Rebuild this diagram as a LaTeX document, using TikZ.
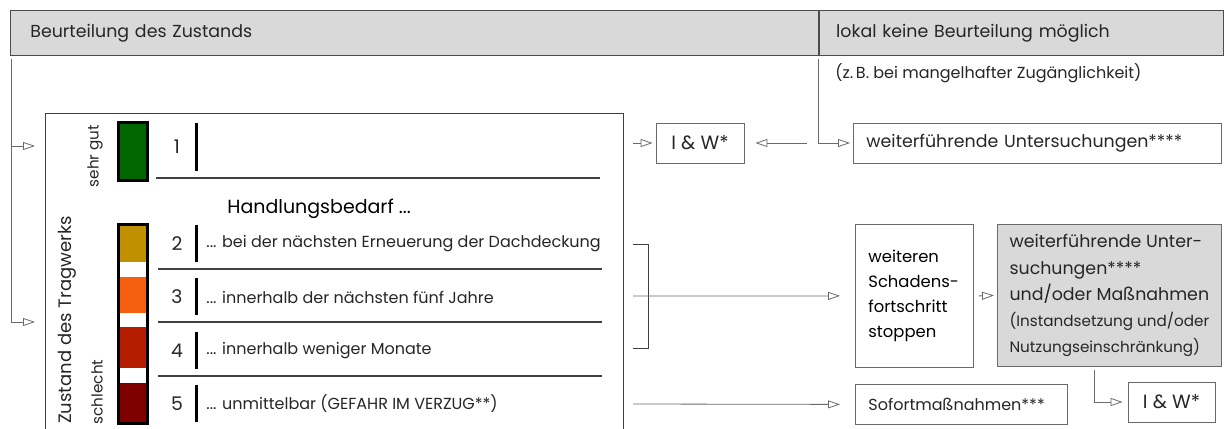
\documentclass[tikz,border=0pt]{standalone}
\usepackage{fontspec}
\setmainfont{Poppins}
\usetikzlibrary{positioning,arrows.meta}
\definecolor{headgray}{HTML}{D9D9D9}
\definecolor{linegray}{HTML}{6A6A6A}
\definecolor{txtgray}{HTML}{262626}
\definecolor{zgreen}{HTML}{006700}
\definecolor{zgold}{HTML}{C09000}
\definecolor{zorange}{HTML}{F65F10}
\definecolor{zred}{HTML}{B41D00}
\definecolor{zdark}{HTML}{800000}
\newcommand{\headfont}{\fontsize{8.7}{10}\selectfont}
\newcommand{\rowfont}{\fontsize{8}{9.5}\selectfont}
\newcommand{\smallfont}{\fontsize{7.6}{9}\selectfont}
\newcommand{\numfont}{\fontsize{9.4}{10}\selectfont}
\newcommand{\stopfont}{\fontsize{8.2}{12.5}\selectfont}
\newcommand{\grossfont}{\fontsize{8.7}{13}\selectfont}
\tikzset{box/.style={draw=linegray,rectangle,inner xsep=6.5pt,inner ysep=0pt,align=left,text=txtgray,font=\rowfont},
arr/.style={-{Triangle[open,length=6pt,width=4pt]},draw=linegray},
head/.style={draw=black!70,fill=headgray,rectangle,anchor=north west,minimum height=22.5pt,align=left,inner ysep=0pt,text=txtgray,font=\headfont},
rowtxt/.style={anchor=west,inner sep=0pt,text=txtgray,font=\rowfont},
num/.style={inner sep=0pt,text=txtgray,font=\numfont},
numbar/.style={line width=1.5pt},
sep/.style={draw=black!75,line width=0.6pt}}

\begin{document}
\begin{tikzpicture}[x=0.5pt,y=-0.5pt]
\useasboundingbox (0,0) rectangle (1224,428);
% header
\node[head,text width=384pt,inner xsep=10pt] (zustand) at (10,10) {Beurteilung des Zustands};
\node[head,text width=185pt,inner xsep=8.5pt] (lokal) at (zustand.north east) {lokal keine Beurteilung möglich};
\node[anchor=west,inner sep=0pt,text=txtgray,font=\rowfont] (zb) at (835,73) {(z.\,B. bei mangelhafter Zugänglichkeit)};

% main box
\node[minimum width=289pt,minimum height=160pt,anchor=north west,inner sep=0pt] (tragwerk) at (45,113) {};
\draw[draw=black!75] (tragwerk.south west) |- (tragwerk.north east) -- (tragwerk.south east);
\coordinate (gut) at (45,146);
\coordinate (schlecht) at (45,322);
\draw[arr,shorten >=5pt] ([xshift=0.5pt,yshift=-1.5pt]zustand.south west) |- (gut);
\draw[arr,shorten >=5pt] ([xshift=0.5pt,yshift=-1.5pt]zustand.south west) |- (schlecht);

\node[rotate=90,text=txtgray,font=\fontsize{9}{10}\selectfont] (tragwerklabel) at (67,320) {Zustand des Tragwerks};
\node[rotate=90,text=txtgray,font=\smallfont] (sehrgut) at (95,156) {sehr gut};
\node[rotate=90,text=txtgray,font=\smallfont] (schlechtlabel) at (97,392) {schlecht};

% colour scale
\node[draw,line width=1.5pt,fill=zgreen,minimum width=14.5pt,minimum height=29pt,inner sep=0pt,anchor=north west] (skala1) at (117,121) {};
\foreach \c/\a/\b in {zgold/223/262,zorange/277/313,zred/327/368,zdark/383/422}
  \fill[\c] (117,\a) rectangle (146,\b);
\node[draw,line width=1.5pt,minimum width=14.5pt,minimum height=99.5pt,inner sep=0pt,anchor=north west] (skala) at (117,223) {};

% rows
\node[num] (n1) at (177,147) {1};
\draw[numbar] (196,123) -- (196,171);
\draw[sep] (156,178) -- (600,178);
\node[anchor=west,inner sep=0pt,text=black,font=\fontsize{9.5}{11}\selectfont] (bedarf) at (227,209) {Handlungsbedarf ...};
\foreach \n/\y/\t in {2/244/{... bei der nächsten Erneuerung der Dachdeckung},
                      3/297/{... innerhalb der nächsten fünf Jahre},
                      4/351/{... innerhalb weniger Monate},
                      5/404/{... unmittelbar (GEFAHR IM VERZUG**)}}{
  \node[num] (n\n) at (177,\y) {\n};
  \draw[numbar] (196,\y-19) -- (196,\y+18);
  \node[rowtxt] (t\n) at (206,\y) {\t};
}
\foreach \y in {269,322,376}
  \draw[sep] (158,\y) -- (602,\y);

% right side
\node[box,minimum width=44pt,minimum height=20pt,inner xsep=0pt,font=\fontsize{9.6}{10}\selectfont] (iw1) at (700,143) {I \& W*};
\node[box,minimum height=20pt,text width=171pt,anchor=west,font=\headfont] (unters) at (853,143) {weiterführende Untersuchungen****};
\node[box,minimum height=71.5pt,text width=46pt,anchor=north west,text=black,font=\stopfont] (stop) at (855,224) {weiteren\\Schadens-\\fortschritt\\stoppen};
\node[box,fill=headgray,minimum width=112pt,minimum height=71pt,inner xsep=5pt,anchor=north west,font=\fontsize{7.6}{13}\selectfont] (grau) at (997,224)
  {{\grossfont weiterführende Unter-}\\{\grossfont suchungen****}\\{\grossfont und/oder Maßnahmen}\\(Instandsetzung und/oder\\Nutzungseinschränkung)};
\node[box,minimum height=20pt,text width=93pt,anchor=north west] (sofort) at (855,384) {Sofortmaßnahmen***};
\node[box,minimum width=43.5pt,minimum height=20pt,inner xsep=0pt,font=\fontsize{9.6}{10}\selectfont] (iw2) at (1171.5,402) {I \& W*};

% connectors
\draw[arr] ([xshift=4.5pt]tragwerk.east |- iw1) -- ([xshift=-1.5pt]iw1.west);
\coordinate (zurueck) at (807,143);
\draw[arr] (zurueck) -- ([xshift=5.5pt]iw1.east);
\draw[arr] ([yshift=-1.5pt]lokal.south west) |- ([xshift=-1.5pt]unters.west);
\coordinate (k2) at (633,244);
\coordinate (k4) at (633,348);
\draw[draw=black!75] (k2) -| ([xshift=7.5pt]k4) -- (k4);
\draw[arr] (633,296) -- ([xshift=-7.5pt]stop.west);
\draw[arr] (633,404) -- ([xshift=-7.5pt]sofort.west);
\draw[arr] ([xshift=2.5pt]stop.east) -- ([xshift=-1.5pt]grau.west);
\draw[arr] ([xshift=-7.5pt,yshift=-1.5pt]grau.south) |- ([xshift=-2.5pt]iw2.west);
\end{tikzpicture}
\end{document}
